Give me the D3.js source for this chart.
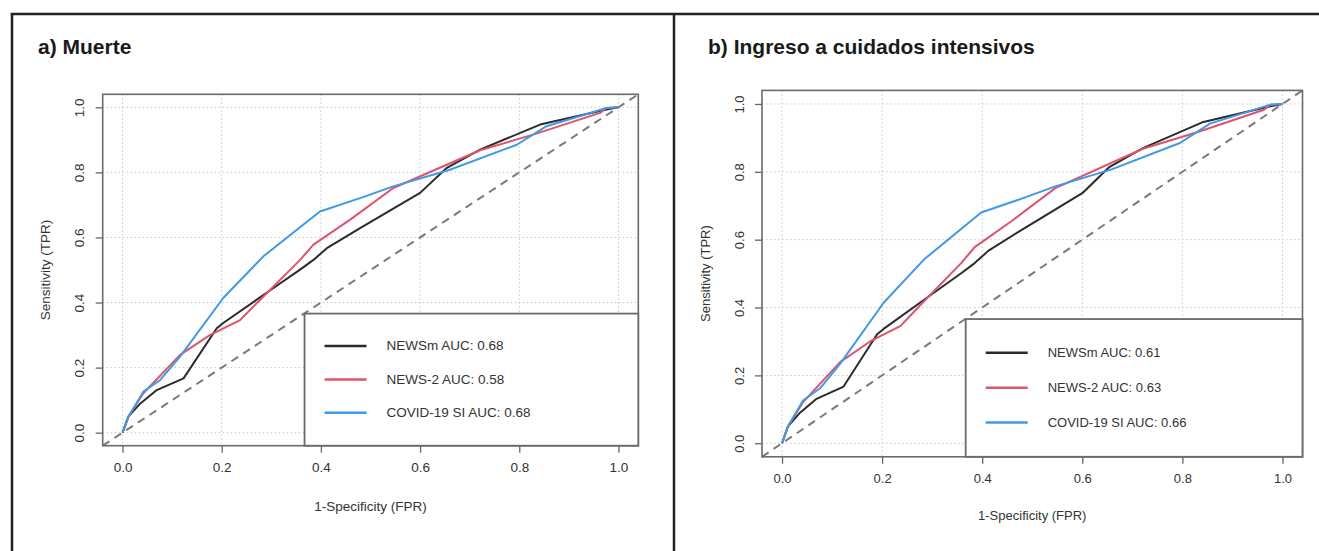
<!DOCTYPE html>
<html>
<head>
<meta charset="utf-8">
<script src="https://cdnjs.cloudflare.com/ajax/libs/d3/7.8.5/d3.min.js"></script>
<style>
  html, body { margin: 0; padding: 0; background: #fff; }
  svg { display: block; font-family: "Liberation Sans", Arial, sans-serif; }
</style>
</head>
<body>
<svg id="chart" width="1319" height="551"></svg>
<script>
// ---------------- data ----------------
const panelTitles = ["a) Muerte", "b) Ingreso a cuidados intensivos"];
const seriesNames = ["NEWSm", "NEWS-2", "COVID-19 SI"];
const aucPanelA = [0.68, 0.58, 0.68];
const aucPanelB = [0.61, 0.63, 0.66];
const tickValues = [0.0, 0.2, 0.4, 0.6, 0.8, 1.0];
const xAxisTitle = "1-Specificity (FPR)";
const yAxisTitle = "Sensitivity (TPR)";

// ROC curves (same curves in both panels, as drawn in the picture)
const newsmFPR = [0, 0.012, 0.036, 0.069, 0.123, 0.19, 0.203, 0.30, 0.358, 0.385, 0.412, 0.479, 0.60, 0.654, 0.721, 0.842, 0.976, 1.0];
const newsmTPR = [0, 0.05, 0.09, 0.131, 0.167, 0.321, 0.337, 0.44, 0.501, 0.531, 0.567, 0.629, 0.737, 0.814, 0.870, 0.947, 0.993, 1.0];
const news2FPR = [0, 0.012, 0.042, 0.116, 0.176, 0.237, 0.277, 0.358, 0.385, 0.459, 0.546, 0.721, 0.828, 0.963, 0.976, 1.0];
const news2TPR = [0, 0.05, 0.121, 0.239, 0.300, 0.346, 0.408, 0.531, 0.578, 0.655, 0.752, 0.868, 0.916, 0.983, 0.998, 1.0];
const covidFPR = [0, 0.012, 0.042, 0.076, 0.116, 0.203, 0.284, 0.398, 0.479, 0.546, 0.660, 0.795, 0.855, 0.976, 0.996, 1.0];
const covidTPR = [0, 0.05, 0.126, 0.162, 0.234, 0.414, 0.542, 0.680, 0.721, 0.757, 0.808, 0.885, 0.942, 0.998, 1.0, 1.0];

const seriesColors = ["#2b2b2b", "#df536b", "#3d9ae8"];
const curves = [
  newsmFPR.map((x, i) => [x, newsmTPR[i]]),
  news2FPR.map((x, i) => [x, news2TPR[i]]),
  covidFPR.map((x, i) => [x, covidTPR[i]])
];

// ---------------- layout ----------------
const svg = d3.select("#chart");
const domain = [-0.04, 1.04];
const legendCorner = [0.367, 0.366]; // legend box top-left in data units

const panels = [
  { title: panelTitles[0], auc: aucPanelA, titleX: 38, left: 102.7, right: 638.3, top: 94.3, bottom: 445.7, font: 13.5, xTitleOff: 61 },
  { title: panelTitles[1], auc: aucPanelB, titleX: 708, left: 762, right: 1302.5, top: 90.4, bottom: 456.8, font: 13, xTitleOff: 59 }
];

// outer frames
const frameColor = "#222";
svg.append("line").attr("x1", 12).attr("x2", 12).attr("y1", 13).attr("y2", 551)
  .attr("stroke", frameColor).attr("stroke-width", 2.5);
svg.append("line").attr("x1", 10.75).attr("x2", 1319).attr("y1", 14).attr("y2", 14)
  .attr("stroke", frameColor).attr("stroke-width", 2.5);
svg.append("line").attr("x1", 674).attr("x2", 674).attr("y1", 13).attr("y2", 551)
  .attr("stroke", frameColor).attr("stroke-width", 2.5);

panels.forEach(p => {
  const g = svg.append("g");
  const x = d3.scaleLinear().domain(domain).range([p.left, p.right]);
  const y = d3.scaleLinear().domain(domain).range([p.bottom, p.top]);

  // title
  g.append("text").attr("x", p.titleX).attr("y", 54)
    .attr("font-size", 21).attr("font-weight", "bold").attr("fill", "#1a1a1a")
    .text(p.title);

  // grid
  const grid = g.append("g").attr("stroke", "#c8c8c8").attr("stroke-width", 1)
    .attr("stroke-dasharray", "1.5,2.5");
  tickValues.forEach(t => {
    grid.append("line").attr("x1", x(t)).attr("x2", x(t)).attr("y1", p.top).attr("y2", p.bottom);
    grid.append("line").attr("y1", y(t)).attr("y2", y(t)).attr("x1", p.left).attr("x2", p.right);
  });

  // diagonal reference line
  g.append("line")
    .attr("x1", x(domain[0])).attr("y1", y(domain[0]))
    .attr("x2", x(domain[1])).attr("y2", y(domain[1]))
    .attr("stroke", "#7a7a7a").attr("stroke-width", 2).attr("stroke-dasharray", "8,6");

  // curves
  const line = d3.line().x(d => x(d[0])).y(d => y(d[1]));
  curves.forEach((c, i) => {
    g.append("path").datum(c).attr("d", line)
      .attr("fill", "none").attr("stroke", seriesColors[i]).attr("stroke-width", 2)
      .attr("stroke-linejoin", "round");
  });

  // axes
  const xAxis = d3.axisBottom(x).tickValues(tickValues).tickFormat(d3.format(".1f"))
    .tickSize(7).tickPadding(10);
  const gx = g.append("g").attr("transform", `translate(0,${p.bottom})`).call(xAxis);
  gx.select(".domain").remove();
  gx.selectAll(".tick line").attr("stroke", "#666").attr("stroke-width", 1.3);
  gx.selectAll(".tick text").attr("font-size", p.font).attr("fill", "#333")
    .attr("font-family", "'Liberation Sans', Arial, sans-serif");

  const yAxis = d3.axisLeft(y).tickValues(tickValues).tickFormat(d3.format(".1f"))
    .tickSize(7).tickPadding(0);
  const gy = g.append("g").attr("transform", `translate(${p.left},0)`).call(yAxis);
  gy.select(".domain").remove();
  gy.selectAll(".tick line").attr("stroke", "#666").attr("stroke-width", 1.3);
  gy.selectAll(".tick text")
    .attr("font-size", p.font).attr("fill", "#333")
    .attr("font-family", "'Liberation Sans', Arial, sans-serif")
    .attr("x", null).attr("dy", null)
    .attr("text-anchor", "middle")
    .attr("transform", "translate(-23,0) rotate(-90)")
    .attr("dominant-baseline", "central");

  // plot box
  g.append("rect").attr("x", p.left).attr("y", p.top)
    .attr("width", p.right - p.left).attr("height", p.bottom - p.top)
    .attr("fill", "none").attr("stroke", "#6a6a6a").attr("stroke-width", 1.6);

  // axis titles
  g.append("text").attr("x", (p.left + p.right) / 2).attr("y", p.bottom + p.xTitleOff)
    .attr("text-anchor", "middle").attr("dominant-baseline", "central")
    .attr("font-size", p.font).attr("fill", "#333").text(xAxisTitle);
  g.append("text")
    .attr("transform", `translate(${p.left - 57},${(p.top + p.bottom) / 2}) rotate(-90)`)
    .attr("text-anchor", "middle").attr("dominant-baseline", "central")
    .attr("font-size", p.font).attr("fill", "#333").text(yAxisTitle);

  // legend
  const lx = x(legendCorner[0]), ly = y(legendCorner[1]);
  g.append("rect").attr("x", lx).attr("y", ly)
    .attr("width", p.right - lx).attr("height", p.bottom - ly)
    .attr("fill", "#fff").attr("stroke", "#6a6a6a").attr("stroke-width", 1.8);
  const lh = p.bottom - ly;
  seriesNames.forEach((name, i) => {
    const yy = ly + lh * (0.245 + 0.253 * i);
    g.append("line").attr("x1", lx + 20).attr("x2", lx + 62).attr("y1", yy).attr("y2", yy)
      .attr("stroke", seriesColors[i]).attr("stroke-width", 2.5);
    g.append("text").attr("x", lx + 82).attr("y", yy)
      .attr("dominant-baseline", "central")
      .attr("font-size", p.font).attr("fill", "#333")
      .text(`${name} AUC: ${p.auc[i].toFixed(2)}`);
  });
});
</script>
</body>
</html>
